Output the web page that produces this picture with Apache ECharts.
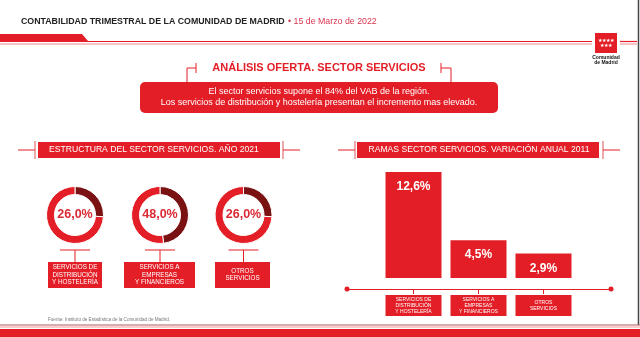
<!DOCTYPE html>
<html><head><meta charset="utf-8">
<script src="https://cdn.jsdelivr.net/npm/echarts@6/dist/echarts.min.js"></script>
<style>html,body{margin:0;padding:0;background:#fff}#c{width:640px;height:337px}</style>
</head><body><div id="c"></div>
<script>
// ---- data ----
const headerTitle = 'CONTABILIDAD TRIMESTRAL DE LA COMUNIDAD DE MADRID';
const headerDate = '• 15 de Marzo de 2022';
const mainTitle = 'ANÁLISIS OFERTA. SECTOR SERVICIOS';
const mainText = ['El sector servicios supone el 84% del VAB de la región.',
                  'Los servicios de distribución y hostelería presentan el incremento mas elevado.'];
const leftTitle = 'ESTRUCTURA DEL SECTOR SERVICIOS. AÑO 2021';
const rightTitle = 'RAMAS SECTOR SERVICIOS. VARIACIÓN ANUAL 2011';
const categories = ['SERVICIOS DE\nDISTRIBUCIÓN\nY HOSTELERÍA', 'SERVICIOS A\nEMPRESAS\nY FINANCIEROS', 'OTROS\nSERVICIOS'];
const shareValues = [26.0, 48.0, 26.0];
const growthValues = [12.6, 4.5, 2.9];
const sourceText = 'Fuente: Instituto de Estadística de la Comunidad de Madrid.';
const logoText = 'Comunidad\nde Madrid';

// ---- layout / style ----
const RED = '#e41e26', DARK = '#7a1214', FONT = '"Liberation Sans", Arial, Helvetica, sans-serif';
const donutX = [75, 160, 243.5], donutY = 215;
const donutBoxX = [75, 159.5, 242.5], donutBoxW = [54, 71, 55];
const fmt = v => v.toFixed(1).replace('.', ',') + '%';

const line = (x1, y1, x2, y2, color, w) => ({type: 'line', silent: true,
  shape: {x1, y1, x2, y2}, style: {stroke: color || RED, lineWidth: w || 1}});
const txt = (x, y, text, st) => ({type: 'text', x, y, silent: true,
  style: Object.assign({text, fontFamily: FONT, align: 'center', verticalAlign: 'middle'}, st)});

const graphic = [];
// header
graphic.push({type: 'text', x: 21, y: 22, silent: true, style: {
  text: '{a|' + headerTitle + '} {b|' + headerDate + '}', verticalAlign: 'middle',
  rich: {a: {fontSize: 8.8, fontWeight: 'bold', fontFamily: FONT, fill: '#222'},
         b: {fontSize: 8.8, fontFamily: FONT, fill: '#d8354f'}}}});
graphic.push({type: 'polygon', silent: true, shape: {points: [[0, 34], [82, 34], [88, 41], [0, 41]]}, style: {fill: RED}});
graphic.push(line(0, 41.5, 592, 41.5, RED, 1.2));
graphic.push(line(0, 44, 592, 44, '#ef8a8e', 1));
graphic.push(line(620, 41.5, 637, 41.5, RED, 1.2));
graphic.push(line(620, 44, 637, 44, '#ef8a8e', 1));
// logo
graphic.push({type: 'rect', silent: true, shape: {x: 595, y: 33, width: 22, height: 20}, style: {fill: RED}});
graphic.push(txt(606, 43, '★★★★\n★★★', {fill: '#fff', fontSize: 4.5, lineHeight: 5}));
graphic.push(txt(606, 60.5, logoText, {fill: '#111', fontSize: 5, fontWeight: 'bold', lineHeight: 5}));
// right border
graphic.push(line(638.5, 0, 638.5, 325, '#444', 1.5));
// main title
graphic.push(txt(319, 68, mainTitle, {fill: RED, fontSize: 11, fontWeight: 'bold'}));
graphic.push({type: 'polyline', silent: true, shape: {points: [[187, 82], [187, 68], [196, 68]]}, style: {stroke: RED, lineWidth: 1, fill: null}});
graphic.push(line(196, 63, 196, 73));
graphic.push({type: 'polyline', silent: true, shape: {points: [[441, 68], [451, 68], [451, 82]]}, style: {stroke: RED, lineWidth: 1, fill: null}});
graphic.push(line(441, 63, 441, 73));
graphic.push({type: 'rect', silent: true, shape: {x: 140, y: 82, width: 358, height: 31, r: 5}, style: {fill: RED}});
graphic.push(txt(319, 97.5, mainText.join('\n'), {fill: '#fff', fontSize: 9, lineHeight: 11}));
// section titles: [boxLeft, boxRight, text, lineStart, leftTick, rightTick, lineEnd, textCenter]
[[38, 280, leftTitle, 18, 35, 283, 300, 154], [357, 599, rightTitle, 338, 355, 603, 620, 479]].forEach(s => {
  graphic.push(line(s[3], 150, s[4], 150));
  graphic.push(line(s[4], 141, s[4], 159, '#d55'));
  graphic.push(line(s[5], 141, s[5], 159, '#d55'));
  graphic.push(line(s[5], 150, s[6], 150));
  graphic.push({type: 'rect', silent: true, shape: {x: s[0], y: 142, width: s[1] - s[0], height: 16}, style: {fill: RED}});
  graphic.push(txt(s[7], 150, s[2], {fill: '#fff', fontSize: 8.6}));
});
// donut connectors + label boxes
categories.forEach((c, i) => {
  graphic.push(line(donutX[i] - 15, 250, donutX[i] + 15, 250));
  graphic.push(line(donutX[i], 250, donutX[i], 262));
  graphic.push(txt(donutBoxX[i], 275, c, {fill: '#fff', fontSize: 6.3, lineHeight: 7.5,
    backgroundColor: RED, width: donutBoxW[i], height: 26}));
});
// footer
graphic.push(txt(48, 320, sourceText, {fill: '#777', fontSize: 4.6, align: 'left'}));
graphic.push(line(0, 325, 640, 325, '#b9585a', 1));
graphic.push(line(0, 327, 640, 327, '#ef9a9c', 1));
graphic.push({type: 'rect', silent: true, shape: {x: 0, y: 329, width: 640, height: 8}, style: {fill: RED}});

const series = shareValues.map((v, i) => ({
  type: 'pie', center: [donutX[i], donutY], radius: [20.5, 28.5], startAngle: 90, clockwise: true,
  silent: true, emphasis: {disabled: true}, labelLine: {show: false}, label: {show: false},
  itemStyle: {borderColor: '#fff', borderWidth: 1},
  data: [
    {value: v, itemStyle: {color: DARK}, label: {show: true, position: 'center', formatter: fmt(v),
      fontSize: 12.5, fontWeight: 'bold', color: '#dc2a35', fontFamily: FONT}},
    {value: 100 - v, itemStyle: {color: RED}}
  ]
}));
series.push({
  type: 'bar', xAxisIndex: 0, yAxisIndex: 0, data: growthValues, barWidth: 56, silent: true,
  itemStyle: {color: RED},
  label: {show: true, position: 'insideTop', distance: 9, formatter: p => fmt(p.value),
    color: '#fff', fontSize: 12, fontWeight: 'bold', fontFamily: FONT}
});

const chart = echarts.init(document.getElementById('c'), null, {renderer: 'canvas'});
chart.setOption({
  animation: false,
  backgroundColor: '#fff',
  grid: [
    {left: 381, top: 172, width: 195, height: 106, containLabel: false, outerBoundsMode: 'none'},
    {left: 347, top: 200, width: 264, height: 89, containLabel: false, outerBoundsMode: 'none'}
  ],
  xAxis: [
    {type: 'category', gridIndex: 0, data: categories, offset: 11,
     axisLine: {show: false, onZero: false},
     axisTick: {show: true, alignWithLabel: true, length: 5, lineStyle: {color: RED}},
     axisLabel: {interval: 0, color: '#fff', fontSize: 5, lineHeight: 6, fontFamily: FONT,
       backgroundColor: RED, width: 56, height: 21, align: 'center', verticalAlign: 'middle', margin: 16.5},
     splitLine: {show: false}},
    {type: 'value', gridIndex: 1, min: 0, max: 1,
     axisLine: {show: true, onZero: false, symbol: ['circle', 'circle'], symbolSize: [5, 5], lineStyle: {color: RED, width: 1}},
     axisTick: {show: false}, axisLabel: {show: false}, splitLine: {show: false}}
  ],
  yAxis: [
    {type: 'value', gridIndex: 0, min: 0, max: 'dataMax', show: false},
    {type: 'value', gridIndex: 1, min: 0, max: 1, show: false}
  ],
  graphic: graphic,
  series: series
});
</script></body></html>
